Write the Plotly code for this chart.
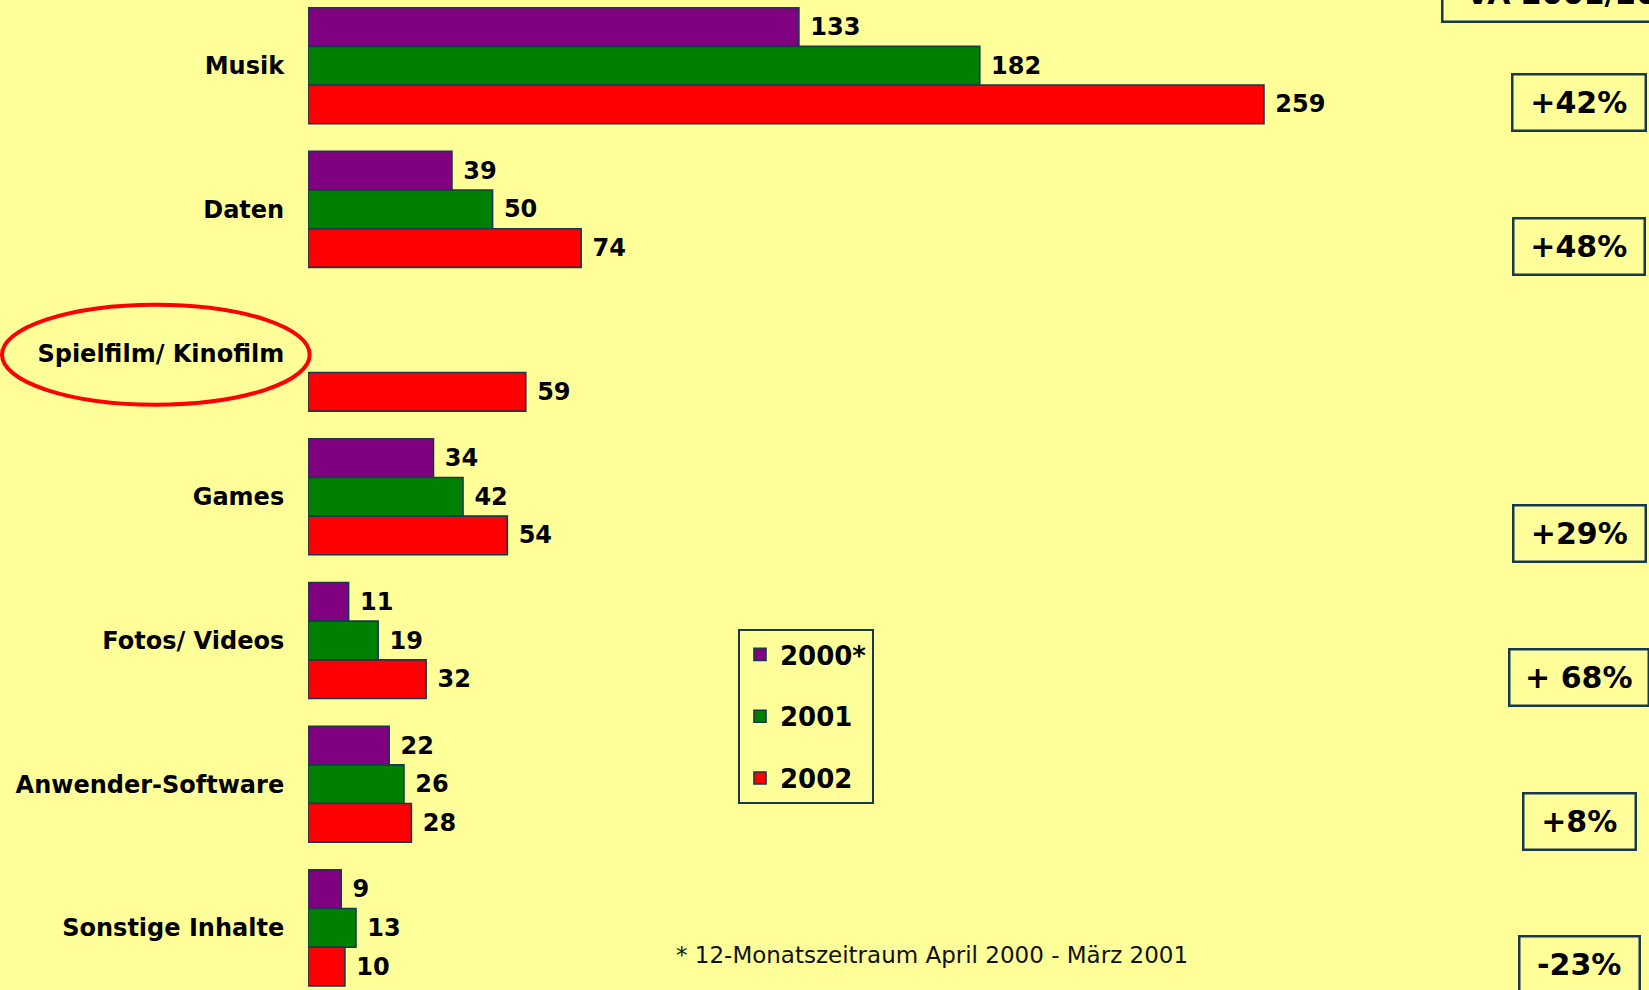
import plotly.graph_objects as go

categories = ["Musik", "Daten", "Spielfilm/ Kinofilm", "Games", "Fotos/ Videos",
              "Anwender-Software", "Sonstige Inhalte"]
series_names = ["2000*", "2001", "2002"]
values_2000 = [133, 39, None, 34, 11, 22, 9]
values_2001 = [182, 50, None, 42, 19, 26, 13]
values_2002 = [259, 74, 59, 54, 32, 28, 10]
change_labels = ["+42%", "+48%", "", "+29%", "+ 68%", "+8%", "-23%"]
header_label = "VÄ 2001/2002"
footnote = "* 12-Monatszeitraum April 2000 - März 2001"

# styles
colors = ["#800080", "#008000", "#ff0000"]
box_widths = [133, 131, 0, 132, 139, 112, 120]
BG = "#ffff99"
NAVY = "#17384f"
W, H = 1649, 990
L = 308
PX_PER_UNIT = 3.691
CAT_PX = 143.7
FIRST_CENTER = 65.7

def px_x(p):
    return (p - L) / (W - L)

def px_y(p):
    return 1 - p / H

fig = go.Figure()
for name, vals, col in zip(series_names, [values_2000, values_2001, values_2002], colors):
    fig.add_trace(go.Bar(
        y=categories, x=vals, name=name, orientation="h",
        marker=dict(color=col, line=dict(color=NAVY, width=1.6)),
        texttemplate="\u00a0%{x}", textposition="outside", constraintext="none",
        cliponaxis=False,
        textfont=dict(family="DejaVu Sans", size=24, color="black", weight="bold"),
        legendgroup=name,
    ))

annotations = []
for cat, lab, bw in zip(categories, change_labels, box_widths):
    if not lab:
        continue
    annotations.append(dict(
        x=px_x(1579), xref="paper", y=cat, yref="y", yshift=-37,
        text=lab, showarrow=False, xanchor="center", yanchor="middle",
        font=dict(family="DejaVu Sans", size=30, color="black", weight="bold"),
        bordercolor=NAVY, borderwidth=2.5, borderpad=9,
        width=bw - 20.5, height=36, align="center", bgcolor=BG,
    ))
annotations.append(dict(
    x=px_x(1440.7), xref="paper", y=px_y(-6.8), yref="paper",
    text=header_label, showarrow=False, xanchor="left", yanchor="middle",
    font=dict(family="DejaVu Sans", size=30, color="black", weight="bold"),
    bordercolor=NAVY, borderwidth=2.5, borderpad=9,
    width=260, height=36, align="center",
))
annotations.append(dict(
    x=px_x(932), xref="paper", y=px_y(955), yref="paper",
    text=footnote, showarrow=False, xanchor="center", yanchor="middle",
    font=dict(family="DejaVu Sans", size=23, color="#111111"),
))

shapes = [dict(
    type="circle", xref="paper", yref="paper",
    x0=px_x(2), x1=px_x(309.7), y0=px_y(404.7), y1=px_y(304.7),
    line=dict(color="#ff0000", width=4),
)]

fig.update_layout(
    width=W, height=H,
    margin=dict(l=L, r=0, t=0, b=0, pad=0),
    paper_bgcolor=BG, plot_bgcolor=BG,
    barmode="group", bargap=0.193, bargroupgap=0,
    showlegend=True,
    legend=dict(
        x=px_x(738), y=px_y(629), xanchor="left", yanchor="top",
        bgcolor=BG, bordercolor=NAVY, borderwidth=2,
        font=dict(family="DejaVu Sans", size=26, color="black", weight="bold"),
        tracegroupgap=25, traceorder="grouped", itemwidth=30,
    ),
    xaxis=dict(range=[0, (W - L) / PX_PER_UNIT], visible=False, fixedrange=True),
    yaxis=dict(
        range=[FIRST_CENTER / CAT_PX * -1 + H / CAT_PX, -FIRST_CENTER / CAT_PX],
        showgrid=False, zeroline=False, showline=False,
        ticks="outside", ticklen=18, tickcolor="rgba(0,0,0,0)",
        tickfont=dict(family="DejaVu Sans", size=24, color="black", weight="bold"),
    ),
    annotations=annotations, shapes=shapes,
)

fig.write_html(
    "out.html",
    config={"displayModeBar": False},
    post_script="document.body.style.margin='0';document.body.style.padding='0';"
                "document.body.style.background='" + BG + "';",
)
